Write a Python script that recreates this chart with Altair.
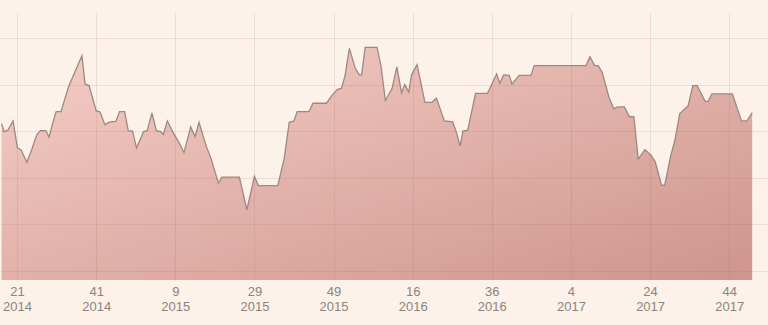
import json
import altair as alt
import pandas as pd

# week index (0 = week 21 of 2014) and value
week_idx = [-3.9, -3.3, -2.3, -1.0, 0.1, 1.0, 2.5, 3.7, 5.0, 5.9, 7.3, 8.1, 9.1, 9.9, 11.1, 13.1,
            16.4, 17.2, 18.2, 20.0, 21.0, 22.2, 23.5, 25.0, 25.9, 27.2, 28.1, 29.2, 30.2, 32.0,
            32.9, 34.1, 35.2, 36.3, 37.0, 38.0, 39.4, 40.7, 42.2, 43.9, 45.0, 46.0, 47.8, 49.0,
            50.9, 51.8, 56.2, 58.1, 60.0, 61.0, 65.9, 67.5, 68.8, 70.0, 70.8, 73.8, 74.8, 78.2,
            79.6, 81.0, 82.0, 82.9, 84.0, 85.5, 86.5, 87.1, 88.0, 91.0, 92.0, 93.1, 94.8, 96.0,
            97.2, 98.0, 99.0, 99.7, 101.1, 103.1, 104.9, 106.0, 108.0, 110.1, 111.0, 112.0,
            112.7, 113.9, 115.9, 118.9, 121.2, 122.0, 123.0, 124.4, 125.1, 126.9, 129.9, 130.7,
            143.8, 144.8, 146.0, 146.9, 147.9, 149.6, 150.8, 151.8, 153.5, 154.8, 155.9, 157.0,
            158.7, 160.2, 161.3, 162.9, 163.7, 165.2, 166.3, 167.5, 169.6, 170.8, 171.9, 173.9,
            174.7, 175.6, 180.8, 182.5, 183.1, 184.5, 185.8]
values = [31.6, 29.9, 30.2, 32.2, 26.4, 26.0, 23.3, 26.0, 29.2, 30.1, 30.1, 28.7, 32.0, 34.2, 34.2, 39.7,
          46.2, 40.1, 39.8, 34.4, 34.1, 31.4, 32.0, 32.1, 34.2, 34.2, 30.1, 30.0, 26.4, 29.9,
          30.1, 33.9, 30.1, 29.9, 29.3, 32.2, 29.8, 27.9, 25.4, 30.9, 28.8, 31.9, 26.8, 24.2,
          18.8, 20.1, 20.1, 13.1, 20.3, 18.3, 18.3, 24.0, 31.9, 32.2, 34.2, 34.2, 36.0, 36.0,
          37.7, 39.0, 39.2, 41.9, 47.8, 43.5, 42.1, 42.1, 48.0, 48.0, 44.0, 36.6, 39.2, 43.8,
          38.2, 40.0, 38.4, 42.1, 44.3, 36.2, 36.2, 37.1, 32.2, 32.0, 29.9, 26.8,
          30.0, 30.2, 38.1, 38.1, 42.3, 40.3, 42.1, 42.0, 40.1, 42.0, 42.0, 44.1,
          44.1, 46.0, 44.1, 44.1, 42.6, 37.3, 34.8, 35.2, 35.2, 33.1, 33.1, 24.0,
          26.0, 24.9, 23.4, 18.4, 18.4, 24.7, 28.1, 33.8, 35.4, 39.8, 39.8, 36.4,
          36.4, 38.0, 38.0, 33.7, 32.2, 32.2, 34.0]

tick_pos = [0, 20, 40, 60, 80, 100, 120, 140, 160, 180]
tick_week = ["21", "41", "9", "29", "49", "16", "36", "4", "24", "44"]
tick_year = ["2014", "2014", "2015", "2015", "2015", "2016", "2016", "2017", "2017", "2017"]
y_grid = [0, 10, 20, 30, 40, 50]

df = pd.DataFrame({"week": week_idx, "value": values})

label_arr = json.dumps([[w, y] for w, y in zip(tick_week, tick_year)])
label_expr = f"{label_arr}[indexof({json.dumps(tick_pos)}, datum.value)]"

x_enc = alt.X(
    "week:Q",
    scale=alt.Scale(domain=[-4.3, 189.8], nice=False, zero=False),
    axis=alt.Axis(values=tick_pos, labelExpr=label_expr, title=None, ticks=False,
                  domain=False, grid=True, labelPadding=5, labelFontSize=13,
                  labelLineHeight=15, labelColor="#8a847f", labelFont="Liberation Sans",
                  gridColor="#96644f", gridOpacity=0.14, zindex=1, labelFlush=False),
)
y_enc = alt.Y(
    "value:Q",
    scale=alt.Scale(domain=[-2, 55.4], nice=False, zero=False),
    axis=alt.Axis(values=y_grid, labels=False, ticks=False, domain=False, title=None,
                  grid=True, gridColor="#96644f", gridOpacity=0.14, zindex=1),
)

area = alt.Chart(df).mark_area(
    color=alt.Gradient(
        gradient="linear", x1=0, y1=0, x2=1, y2=1,
        stops=[alt.GradientStop(color="#f4cec7", offset=0),
               alt.GradientStop(color="#cf958c", offset=1)],
    ),
    interpolate="linear",
).encode(x=x_enc, y=y_enc, y2=alt.datum(-2))

line = alt.Chart(df).mark_line(color="#9e8884", strokeWidth=1.3).encode(
    x=alt.X("week:Q"), y=alt.Y("value:Q")
)

chart = (
    alt.layer(area, line)
    .properties(width=768, height=267, background="#fcf2e9",
                padding={"left": 0, "right": 0, "top": 13, "bottom": 45},
                autosize=alt.AutoSizeParams(type="none"))
    .configure_view(stroke=None, fill="#fcf2e9")
)

chart.save("out.html", embed_options={"renderer": "svg", "actions": False})
